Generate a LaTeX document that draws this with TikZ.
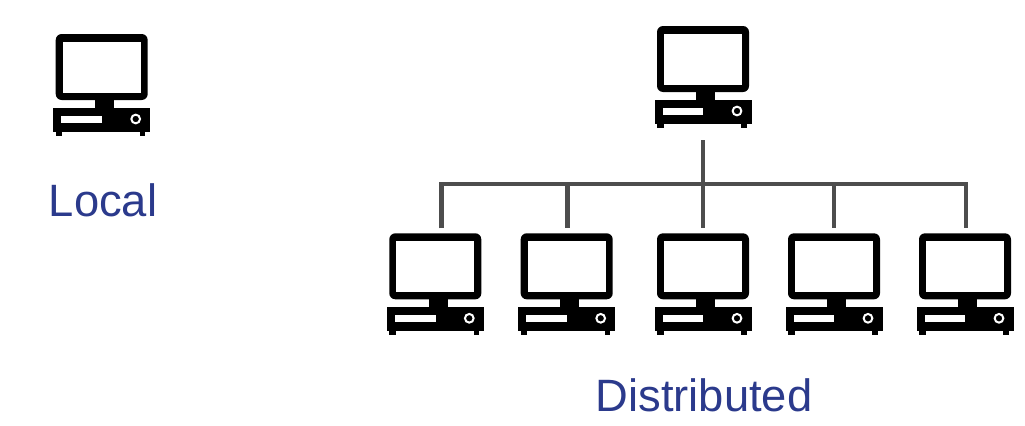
\documentclass[tikz,border=0pt]{standalone}
\usepackage{fontspec}
\setmainfont{Liberation Sans}
\definecolor{labelblue}{HTML}{2B3A8C}
\definecolor{wire}{HTML}{4D4D4D}
\tikzset{
  computerbox/.style={minimum width=72.75pt,minimum height=76.5pt,inner sep=0pt,outer sep=3.75pt,anchor=center},
  wireline/.style={draw=wire,line width=3.2pt},
  caption/.style={text=labelblue,font=\fontsize{34pt}{36pt}\selectfont,inner sep=0pt,anchor=base},
  pics/computer/.style={code={
    \fill[black,rounded corners=4.5pt] (0,0) rectangle (92,66);
    \fill[white] (7,7.7) rectangle (85,58.7);
    \fill[black] (39.3,66) rectangle (58.3,74);
    \fill[black] (-2.4,74) rectangle (94.6,97.7);
    \fill[black] (0,97) rectangle (6.6,102);
    \fill[black] (84.3,97) rectangle (89.6,102);
    \fill[white] (5.6,81.7) rectangle (46.3,88.7);
    \draw[white,line width=1.5pt] (80,85) circle (4.35);
  }}
}
\begin{document}
\begin{tikzpicture}[x=0.75pt,y=-0.75pt]
\useasboundingbox (0,0) rectangle (1025,425);
\fill[white] (0,0) rectangle (1025,425);
% computers
\path (55.7,34) pic {computer};
\node[computerbox] (local) at (101.8,85) {};
\path (657,26) pic {computer};
\node[computerbox,outer sep=9pt] (server) at (703.1,77) {};
\path (389.3,233.3) pic {computer};
\node[computerbox] (c1) at (435.4,284.3) {};
\path (520.7,233.3) pic {computer};
\node[computerbox] (c2) at (566.8,284.3) {};
\path (657,233.3) pic {computer};
\node[computerbox] (c3) at (703.1,284.3) {};
\path (788,233.3) pic {computer};
\node[computerbox] (c4) at (834.1,284.3) {};
\path (919,233.3) pic {computer};
\node[computerbox] (c5) at (965.1,284.3) {};
% bus
\coordinate (j0) at (703,184);
\coordinate (j1) at (441.5,184);
\coordinate (j2) at (567.5,184);
\coordinate (j4) at (834,184);
\coordinate (j5) at (966,184);
\draw[wireline] (server.south -| j0) -- (j0 |- c3.north);
\draw[wireline,line join=miter] (j1 |- c1.north) -- (j1) -- (j5) -- (j5 |- c5.north);
\draw[wireline] (j2) -- (j2 |- c2.north);
\draw[wireline] (j4) -- (j4 |- c4.north);
% labels
\node[caption] (locallabel) at (103,216.5) {Local};
\node[caption] (distlabel) at (704,411) {Distributed};
\end{tikzpicture}
\end{document}
